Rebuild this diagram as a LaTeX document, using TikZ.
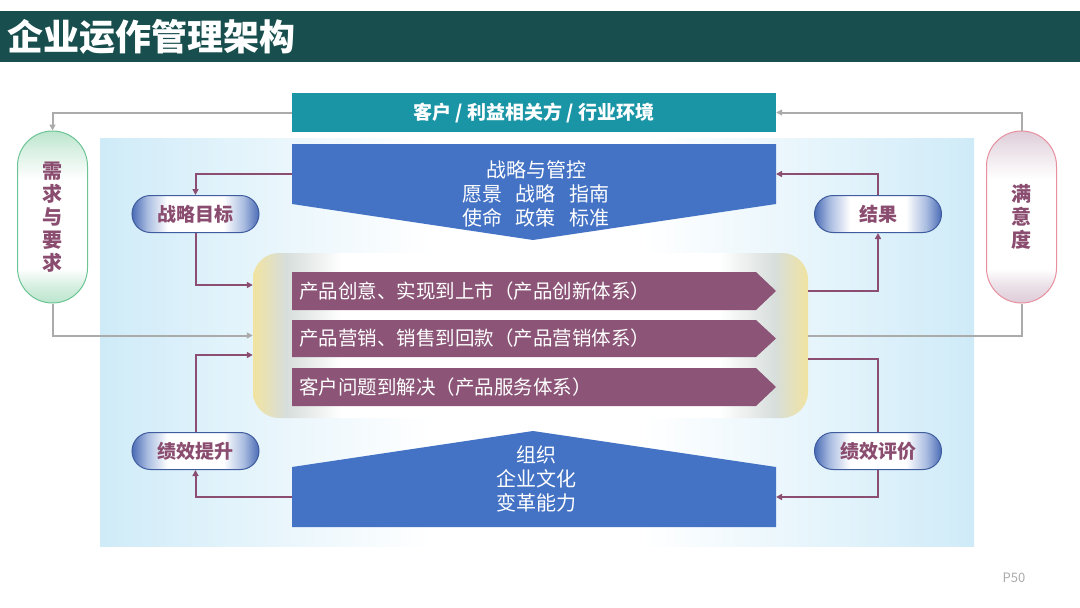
\documentclass[tikz,border=0pt]{standalone}
\usepackage{fontspec}
\setmainfont{Noto Sans CJK SC}
\usetikzlibrary{arrows.meta}
\definecolor{titlebg}{HTML}{184E4D}
\definecolor{envbg}{HTML}{1A95A6}
\definecolor{blueshape}{HTML}{4472C4}
\definecolor{rowpurple}{HTML}{8C5578}
\definecolor{linepurple}{HTML}{8B4D70}
\definecolor{txtpurple}{HTML}{8A4C6F}
\definecolor{linegray}{HTML}{ABABAB}
\definecolor{bgb}{HTML}{CFEBF8}
\definecolor{cy}{HTML}{F1E3A0}
\definecolor{cg}{HTML}{D7DEDC}
\definecolor{pb}{HTML}{4A6BB5}
\definecolor{pl}{HTML}{A9BCE0}
\definecolor{pillborder}{HTML}{3F5C9E}
\definecolor{gr}{HTML}{BBE5CD}
\definecolor{grb}{HTML}{6CC494}
\definecolor{pk}{HTML}{DDCCD8}
\definecolor{pkb}{HTML}{E8909F}
\pgfdeclarehorizontalshading{bgsh}{100bp}{color(0bp)=(bgb); color(25bp)=(bgb); color(44bp)=(white); color(56bp)=(white); color(75bp)=(bgb); color(100bp)=(bgb)}
\pgfdeclarehorizontalshading{coresh}{100bp}{color(0bp)=(cy); color(25bp)=(cy); color(28bp)=(cg); color(33bp)=(white); color(67bp)=(white); color(72bp)=(cg); color(75bp)=(cy); color(100bp)=(cy)}
\pgfdeclarehorizontalshading{pillsh}{100bp}{color(0bp)=(pb); color(25bp)=(pb); color(31bp)=(pl); color(39bp)=(white); color(61bp)=(white); color(69bp)=(pl); color(75bp)=(pb); color(100bp)=(pb)}
\pgfdeclareverticalshading{greensh}{100bp}{color(0bp)=(gr); color(25bp)=(gr); color(30bp)=(gr!60); color(35bp)=(white); color(61bp)=(white); color(70bp)=(gr!60); color(75bp)=(gr); color(100bp)=(gr)}
\pgfdeclareverticalshading{pinksh}{100bp}{color(0bp)=(pk); color(25bp)=(pk); color(30bp)=(pk!60); color(35bp)=(white); color(61bp)=(white); color(70bp)=(pk!60); color(75bp)=(pk); color(100bp)=(pk)}
\newcommand\fsz[2]{\fontsize{#1pt}{#2pt}\selectfont}
\begin{document}
\begin{tikzpicture}[x=1pt,y=-1pt,
  >={Triangle[length=6pt,width=6pt]},
  pline/.style={draw=linepurple,line width=2pt},
  gline/.style={draw=linegray,line width=2pt},
  pill/.style={shade,shading=pillsh,draw=pillborder,line width=1pt,minimum width=127pt,minimum height=37pt,rounded corners=18.5pt,inner sep=0pt,text=txtpurple,font=\fsz{19}{22}\bfseries},
  capsule/.style={draw,line width=1pt,minimum width=70pt,minimum height=172pt,rounded corners=35pt,inner sep=0pt,text=txtpurple,align=center,font=\fsz{20}{23}\bfseries},
  rowtxt/.style={anchor=west,text=white,inner sep=0pt,font=\fsz{19.5}{22}},
  bluetxt/.style={text=white,align=center,inner sep=0pt,font=\fsz{20}{24}}
]
\useasboundingbox (0,0) rectangle (1080,608);
\fill[white] (0,0) rectangle (1080,608);
% title bar
\fill[titlebg] (0,11) rectangle (1080,62);
\node[anchor=west,text=white,inner sep=0pt,font=\fsz{36}{40}\bfseries] (title) at (7,37) {企业运作管理架构};
% background
\shade[shading=bgsh] (100,138) rectangle (974,546);
% top environment bar
\node[fill=envbg,minimum width=484pt,minimum height=39pt,inner sep=0pt,text=white,font=\fsz{19}{22}\bfseries] (env) at (534,112.5) {客户 / 利益相关方 / 行业环境};
% top pentagon
\fill[blueshape] (292,144) -- (776,144) -- (776,204) -- (533,240) -- (292,204) -- cycle;
\node[bluetxt] (strat) at (536,194) {战略与管控\\愿景\hspace{0.7em}战略\hspace{0.7em}指南\\使命\hspace{0.7em}政策\hspace{0.7em}标准};
\coordinate (sL) at (292,174);
\coordinate (sR) at (776,174);
% bottom pentagon
\fill[blueshape] (292,467) -- (533,431) -- (776,467) -- (776,527) -- (292,527) -- cycle;
\node[bluetxt] (org) at (536,479) {组织\\企业文化\\变革能力};
\coordinate (bL) at (292,497);
\coordinate (bR) at (776,497);
% core box
\node[shade,shading=coresh,rounded corners=26pt,minimum width=555pt,minimum height=165pt,inner sep=0pt] (core) at (530.5,335.5) {};
% rows
\fill[rowpurple] (292,272) -- (756,272) -- (776,291) -- (756,310) -- (292,310) -- cycle;
\fill[rowpurple] (292,320) -- (756,320) -- (776,338.5) -- (756,357) -- (292,357) -- cycle;
\fill[rowpurple] (292,368) -- (756,368) -- (776,387) -- (756,406) -- (292,406) -- cycle;
\node[rowtxt] (r1) at (299,291) {产品创意、实现到上市（产品创新体系）};
\node[rowtxt] (r2) at (299,338.5) {产品营销、销售到回款（产品营销体系）};
\node[rowtxt] (r3) at (299,387) {客户问题到解决（产品服务体系）};
% pills
\node[pill] (goal) at (195.5,214) {战略目标};
\node[pill] (res) at (878,214) {结果};
\node[pill] (imp) at (195.5,451) {绩效提升};
\node[pill] (eval) at (878,451) {绩效评价};
% capsules
\node[capsule,draw=grb,shade,shading=greensh] (need) at (52.5,217) {需\\求\\与\\要\\求};
\node[capsule,draw=pkb,shade,shading=pinksh] (sat) at (1021.5,217) {满\\意\\度};
% gray connectors
\draw[gline,->] (env.west) -| (need.north);
\draw[gline,->] (sat.north) |- (env.east);
\draw[gline,->] (need.south) |- (core.west);
\draw[gline] (core.east) -| (sat.south);
% purple connectors
\draw[pline,->] (sL) -| (goal.north);
\draw[pline,->] (goal.south) |- ([yshift=50.5pt]core.west);
\draw[pline,->] ([yshift=44.5pt]core.east) -| (res.south);
\draw[pline,->] (res.north) |- (sR);
\draw[pline,->] (bL) -| (imp.south);
\draw[pline,->] (imp.north) |- ([yshift=-19.5pt]core.west);
\draw[pline] ([yshift=-23.5pt]core.east) -| (eval.north);
\draw[pline,->] (eval.south) |- (bR);
% page number
\node[text=linegray,inner sep=0pt,font=\fsz{13}{15}] (pg) at (1014,578) {P50};
\end{tikzpicture}
\end{document}
